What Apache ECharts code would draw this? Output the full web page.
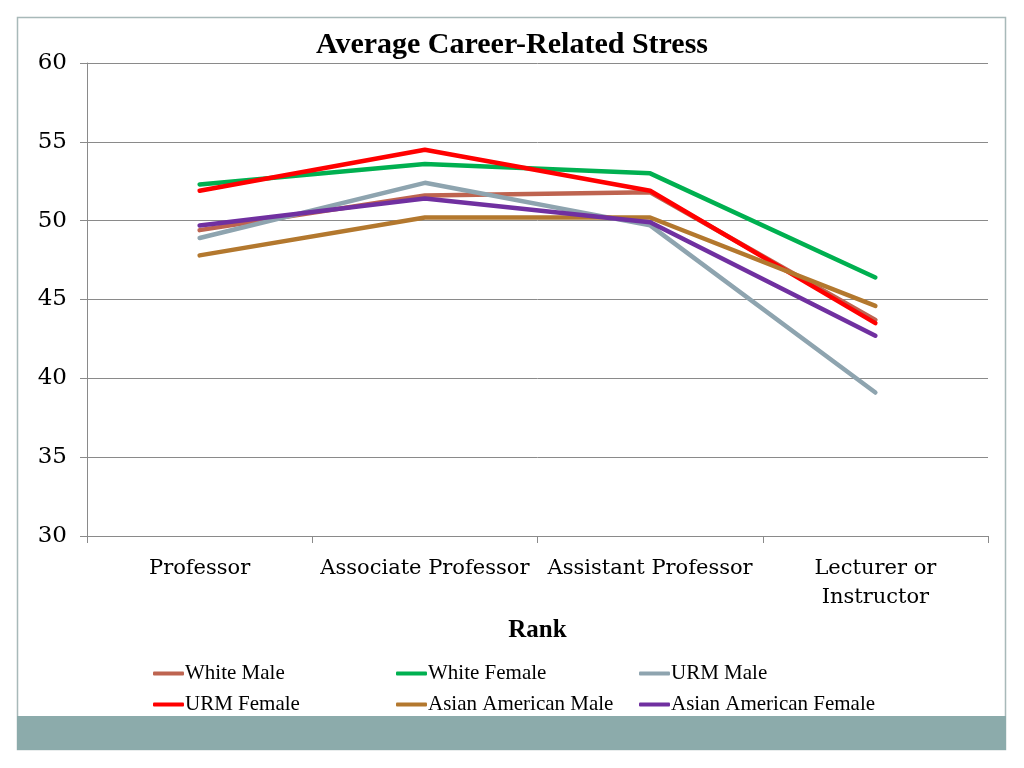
<!DOCTYPE html>
<html>
<head>
<meta charset="utf-8">
<script src="https://cdn.jsdelivr.net/npm/echarts@6/dist/echarts.min.js"></script>
<style>html,body{margin:0;padding:0;background:#fff}#c{width:1024px;height:768px}</style>
</head>
<body>
<div id="c"></div>
<script>
const categories = ['Professor', 'Associate Professor', 'Assistant Professor', 'Lecturer or\nInstructor'];
const whiteMale = [49.4, 51.6, 51.8, 43.7];
const whiteFemale = [52.3, 53.6, 53.0, 46.4];
const urmMale = [48.9, 52.4, 49.7, 39.1];
const urmFemale = [51.9, 54.5, 51.9, 43.5];
const asianMale = [47.8, 50.2, 50.2, 44.6];
const asianFemale = [49.7, 51.4, 49.9, 42.7];
const yTicks = [30, 35, 40, 45, 50, 55, 60];

const seriesDefs = [
  {name: 'White Male', data: whiteMale, color: '#BE6450'},
  {name: 'White Female', data: whiteFemale, color: '#00B050'},
  {name: 'URM Male', data: urmMale, color: '#8EA4AF'},
  {name: 'URM Female', data: urmFemale, color: '#FF0000'},
  {name: 'Asian American Male', data: asianMale, color: '#B3782E'},
  {name: 'Asian American Female', data: asianFemale, color: '#7030A0'}
];
const legendPos = [[153, 663], [396, 663], [639, 663], [153, 694], [396, 694], [639, 694]];

const chart = echarts.init(document.getElementById('c'));
chart.setOption({
  animation: false,
  title: {
    text: 'Average Career-Related Stress',
    left: 'center', top: 25,
    textStyle: {fontFamily: 'Liberation Serif', fontWeight: 'bold', fontSize: 30, color: '#000'}
  },
  graphic: [
    {type: 'rect', shape: {x: 17.5, y: 17.5, width: 988, height: 732}, style: {fill: 'none', stroke: '#A8B9B9', lineWidth: 1.5}, z: -1},
    {type: 'rect', shape: {x: 17, y: 716, width: 989, height: 34}, style: {fill: '#8CABAB'}, z: -1}
  ],
  legend: seriesDefs.map((s, i) => ({
    data: [s.name],
    left: legendPos[i][0], top: legendPos[i][1],
    icon: 'roundRect', itemWidth: 31, itemHeight: 4, itemGap: 0,
    padding: 0,
    textStyle: {fontFamily: 'Liberation Serif', fontSize: 21, color: '#000', padding: [0, 0, 0, -4]}
  })),
  grid: {left: 87, right: 36, top: 63, bottom: 232},
  xAxis: {
    type: 'category', data: categories, boundaryGap: true,
    name: 'Rank', nameLocation: 'middle', nameGap: 82,
    nameTextStyle: {fontFamily: 'Liberation Serif', fontWeight: 'bold', fontSize: 25, color: '#000'},
    axisLine: {lineStyle: {color: '#8A8A8A', width: 1}},
    axisTick: {show: true, length: 7, lineStyle: {color: '#8A8A8A'}},
    axisLabel: {fontFamily: 'DejaVu Serif', fontSize: 21, color: '#000', margin: 18, lineHeight: 29, interval: 0}
  },
  yAxis: {
    type: 'value', min: 30, max: 60, interval: 5,
    axisLine: {show: true, lineStyle: {color: '#8A8A8A', width: 1}},
    axisTick: {show: true, length: 7, lineStyle: {color: '#8A8A8A'}},
    splitLine: {lineStyle: {color: '#8A8A8A', width: 1}},
    axisLabel: {fontFamily: 'DejaVu Serif', fontSize: 23, color: '#000', margin: 20,
      padding: [10, 0, 0, 0],
      formatter: v => yTicks.includes(v) ? String(v) : ''}
  },
  series: seriesDefs.map(s => ({
    name: s.name, type: 'line', data: s.data, symbol: 'none',
    lineStyle: {color: s.color, width: 4.5, cap: 'round'},
    itemStyle: {color: s.color}
  }))
});
</script>
</body>
</html>
